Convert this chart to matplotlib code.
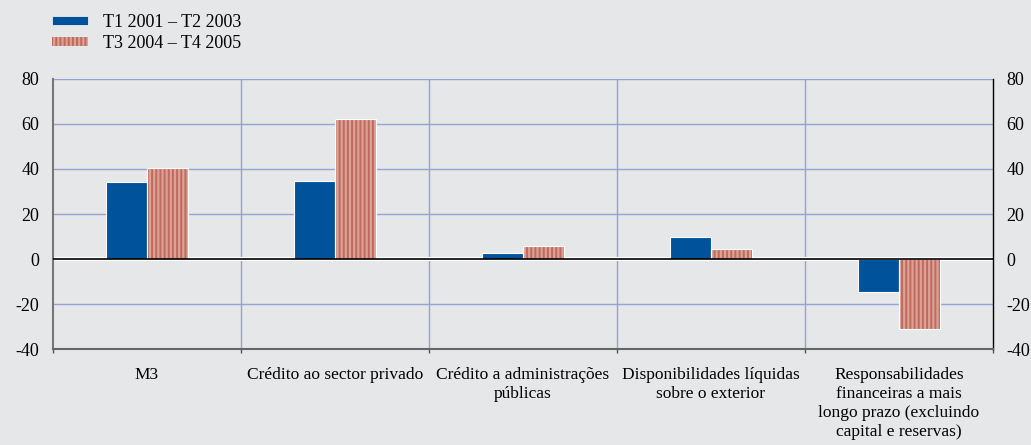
import numpy as np
import matplotlib.pyplot as plt
from matplotlib.patches import Patch

categories = ["M3",
              "Crédito ao sector privado",
              "Crédito a administrações\npúblicas",
              "Disponibilidades líquidas\nsobre o exterior",
              "Responsabilidades\nfinanceiras a mais\nlongo prazo (excluindo\ncapital e reservas)"]
periodo1 = [34.0, 34.5, 2.7, 9.8, -14.6]
periodo2 = [40.3, 62.0, 5.7, 4.3, -31.0]
series_labels = ["T1 2001 – T2 2003", "T3 2004 – T4 2005"]
yticks = [-40, -20, 0, 20, 40, 60, 80]

bg = "#e6e7e9"
blue = "#00529b"
salmon = "#dba295"
stripe = "#bf6a5c"
grid = "#94a3d4"

plt.rcParams['font.family'] = ['Liberation Serif', 'DejaVu Serif']
plt.rcParams['hatch.linewidth'] = 1.4
plt.rcParams['hatch.color'] = stripe

fig = plt.figure(figsize=(10.31, 4.45), dpi=100, facecolor=bg)
ax = fig.add_axes([0.0514, 0.2157, 0.9116, 0.6068], facecolor=bg)

x = np.arange(len(categories))
w = 0.22
ax.bar(x - w / 2, periodo1, w, color=blue, edgecolor="white", linewidth=0.8, zorder=3)
ax.bar(x + w / 2, periodo2, w, color=salmon, edgecolor=stripe, linewidth=0,
       hatch="||||", zorder=3)
ax.bar(x + w / 2, periodo2, w, fill=False, edgecolor="white", linewidth=0.8, zorder=4)

ax.set_xlim(-0.5, len(categories) - 0.5)
ax.set_ylim(-40, 80)
ax.set_yticks(yticks)
ax.set_yticklabels([str(v) for v in yticks])
for v in yticks[1:]:
    if v != 0:
        ax.axhline(v, color=grid, lw=1, zorder=1)
for b in np.arange(0.5, len(categories) - 0.5):
    ax.axvline(b, color=grid, lw=1, zorder=1)
ax.axhline(0, color="white", lw=3, zorder=2)
ax.plot([-0.5, len(categories) - 0.5], [0, 0], color="black", lw=1.2, zorder=5)

ax.set_xticks(x)
ax.set_xticklabels(categories, fontsize=12.5, linespacing=1.25, va="top")
ax.set_xticks(np.arange(-0.5, len(categories)), minor=True)
ax.tick_params(axis="x", which="major", length=0, pad=13)
ax.tick_params(axis="x", which="minor", length=3, width=1, color="#555555", direction="out")
ax.tick_params(axis="y", which="both", length=0, labelsize=13, right=False, left=False,
               labelright=True, pad=10)

ax.spines["top"].set_visible(False)
ax.spines["left"].set_color("#777777")
ax.spines["left"].set_linewidth(1.5)
ax.spines["bottom"].set_color("#666666")
ax.spines["bottom"].set_linewidth(1.5)
ax.spines["right"].set_color("black")
ax.spines["right"].set_linewidth(1.0)

handles = [Patch(facecolor=blue, edgecolor="white", linewidth=0.5),
           Patch(facecolor=salmon, edgecolor=stripe, linewidth=0, hatch="||||")]
fig.legend(handles, series_labels, loc="upper left", bbox_to_anchor=(52 / 1031, 1 - 14 / 445),
           frameon=False, fontsize=13, handlelength=2.0, handleheight=0.45,
           labelspacing=0.22, handletextpad=0.85, borderaxespad=0, borderpad=0)

fig.savefig("out.png", dpi=100, facecolor=bg)
